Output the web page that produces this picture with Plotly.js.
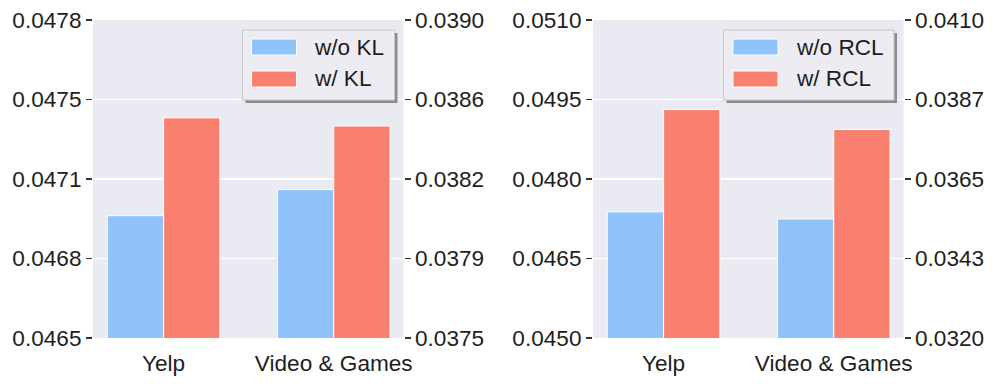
<!DOCTYPE html>
<html>
<head>
<meta charset="utf-8">
<script src="https://cdn.plot.ly/plotly-3.0.1.min.js"></script>
<style>
  body { margin: 0; background: #fff; }
  #chart { width: 997px; height: 384px; }
</style>
</head>
<body>
<div id="chart"></div>
<script>
// categories and values
var categories = ['Yelp', 'Video & Games'];

// left panel: KL (Yelp on left axis, Video & Games on right axis)
var klNames   = ['w/o KL', 'w/ KL'];
var klWithout = [0.04700, 0.03820];
var klWith    = [0.04740, 0.03850];

// right panel: RCL
var rclNames   = ['w/o RCL', 'w/ RCL'];
var rclWithout = [0.04738, 0.03537];
var rclWith    = [0.04931, 0.03790];

// tick positions / labels
var klLeftTicks   = [0.0465, 0.046825, 0.04715, 0.047475, 0.0478];
var klLeftText    = ['0.0465', '0.0468', '0.0471', '0.0475', '0.0478'];
var klRightTicks  = [0.0375, 0.037875, 0.03825, 0.038625, 0.0390];
var klRightText   = ['0.0375', '0.0379', '0.0382', '0.0386', '0.0390'];
var rclLeftTicks  = [0.0450, 0.0465, 0.0480, 0.0495, 0.0510];
var rclLeftText   = ['0.0450', '0.0465', '0.0480', '0.0495', '0.0510'];
var rclRightTicks = [0.0320, 0.03425, 0.0365, 0.03875, 0.0410];
var rclRightText  = ['0.0320', '0.0343', '0.0365', '0.0387', '0.0410'];

var blue = 'rgb(143,195,250)';
var red = 'rgb(249,128,111)';
var barW = 0.331;
var font = 'Liberation Sans, Arial, sans-serif';
var W = 997, H = 384;

function bar(name, cat, val, color, xa, ya, off) {
  return {
    type: 'bar', name: name, x: [cat], y: [val],
    xaxis: xa, yaxis: ya, width: barW, offset: off,
    marker: {color: color, line: {color: 'white', width: 1}},
    showlegend: false, hoverinfo: 'skip'
  };
}

var data = [
  bar(klNames[0], categories[0], klWithout[0], blue, 'x', 'y', -barW),
  bar(klNames[1], categories[0], klWith[0], red, 'x', 'y', 0),
  bar(klNames[0], categories[1], klWithout[1], blue, 'x', 'y2', -barW),
  bar(klNames[1], categories[1], klWith[1], red, 'x', 'y2', 0),
  bar(rclNames[0], categories[0], rclWithout[0], blue, 'x2', 'y3', -barW),
  bar(rclNames[1], categories[0], rclWith[0], red, 'x2', 'y3', 0),
  bar(rclNames[0], categories[1], rclWithout[1], blue, 'x2', 'y4', -barW),
  bar(rclNames[1], categories[1], rclWith[1], red, 'x2', 'y4', 0)
];

var tickFont = {family: font, size: 22.6, color: '#1e1e1e'};
var yTop = 1 - 20 / H, yBot = 1 - 338 / H;
var d1 = [93 / W, 403.5 / W], d2 = [593 / W, 903.5 / W];

function xAxis(domain, anchor) {
  return {
    domain: domain, anchor: anchor, type: 'category', categoryarray: categories,
    range: [-0.415, 1.41], showgrid: false, zeroline: false, showline: false,
    ticks: '', tickfont: tickFont, ticklabelstandoff: 9
  };
}
function yAxis(range, vals, text, anchor, side, overlay, grid) {
  var ax = {
    domain: [yBot, yTop], anchor: anchor, side: side, range: range,
    tickvals: vals, ticktext: text, ticks: 'outside', ticklen: 6, tickwidth: 1.3,
    tickcolor: '#333', tickfont: tickFont, showgrid: grid, gridcolor: 'white',
    gridwidth: 1.3, zeroline: false, showline: false
  };
  if (overlay) ax.overlaying = overlay;
  return ax;
}

// matplotlib-style legend box (shadow, frame, wide patches) drawn with shapes
var shapes = [], annotations = [];
function px(x) { return x / W; }
function py(y) { return 1 - y / H; }
function rect(x0, y0, x1, y1, fill, line) {
  shapes.push({
    type: 'rect', xref: 'paper', yref: 'paper', layer: 'above',
    x0: px(x0), x1: px(x1), y0: py(y1), y1: py(y0),
    fillcolor: fill, line: line || {width: 0}
  });
}
function legendBox(x0, x1, patchX, textX, names) {
  var y0 = 30, y1 = 100;
  rect(x0 + 3, y0 + 3, x1 + 3, y1 + 3, 'rgba(110,110,110,0.75)');
  rect(x0, y0, x1, y1, 'rgb(236,236,242)', {color: '#c9c9c9', width: 1});
  var rows = [47, 79], colors = [blue, red];
  for (var i = 0; i < 2; i++) {
    rect(patchX, rows[i] - 8, patchX + 45, rows[i] + 8, colors[i], {color: 'white', width: 1});
    annotations.push({
      xref: 'paper', yref: 'paper', x: px(textX), y: py(rows[i]),
      xanchor: 'left', yanchor: 'middle', showarrow: false, text: names[i],
      font: {family: font, size: 22.6, color: '#1e1e1e'}
    });
  }
}
legendBox(242.5, 394.5, 251.5, 312, klNames);
legendBox(723.5, 894, 733, 793.5, rclNames);

var layout = {
  width: W, height: H,
  margin: {l: 0, r: 0, t: 0, b: 0},
  paper_bgcolor: 'white', plot_bgcolor: '#eaeaf2',
  barmode: 'overlay', showlegend: false,
  xaxis: xAxis(d1, 'y'),
  yaxis: yAxis([klLeftTicks[0], klLeftTicks[4]], klLeftTicks, klLeftText, 'x', 'left', null, true),
  yaxis2: yAxis([klRightTicks[0], klRightTicks[4]], klRightTicks, klRightText, 'x', 'right', 'y', false),
  xaxis2: xAxis(d2, 'y3'),
  yaxis3: yAxis([rclLeftTicks[0], rclLeftTicks[4]], rclLeftTicks, rclLeftText, 'x2', 'left', null, true),
  yaxis4: yAxis([rclRightTicks[0], rclRightTicks[4]], rclRightTicks, rclRightText, 'x2', 'right', 'y3', false),
  shapes: shapes,
  annotations: annotations
};

Plotly.newPlot('chart', data, layout, {displayModeBar: false, staticPlot: true});
</script>
</body>
</html>
